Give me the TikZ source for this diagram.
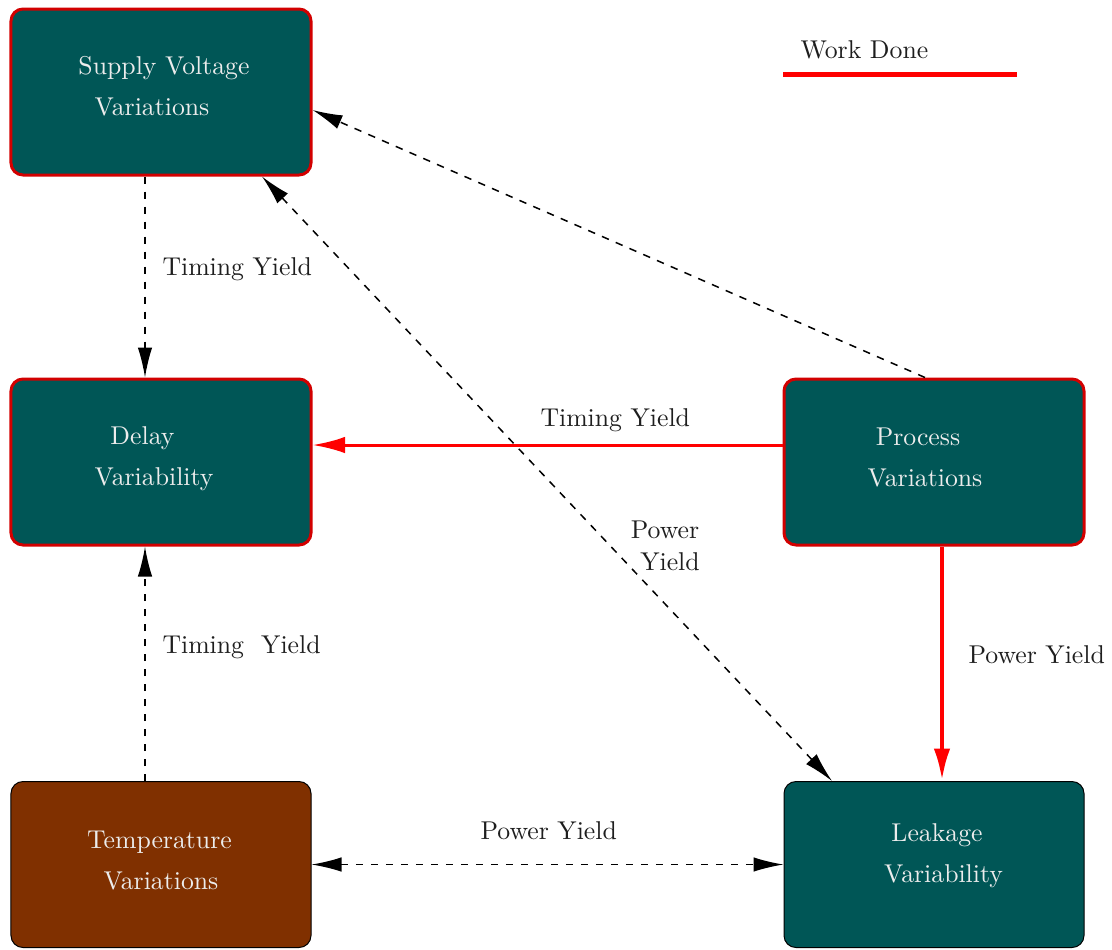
\documentclass[tikz,border=0pt]{standalone}
\usetikzlibrary{arrows.meta,calc}
\definecolor{tealbox}{RGB}{0,86,86}
\definecolor{brownbox}{RGB}{128,48,0}
\definecolor{boxtext}{RGB}{236,236,236}
\definecolor{labeltext}{RGB}{30,30,30}
\definecolor{workred}{RGB}{255,0,0}
\definecolor{edgered}{RGB}{210,0,0}
% two-line box caption, lifted by #1 without changing its size
\newcommand{\boxlines}[2]{\raisebox{#1}[\height][\depth]{\begin{tabular}{@{}c@{}}#2\end{tabular}}}
\begin{document}
\begin{tikzpicture}[x=0.4pt,y=-0.4pt,
  box/.style={rectangle,rounded corners=4.8pt,minimum width=120pt,minimum height=66.4pt,
    inner sep=0pt,text=boxtext,font=\fontsize{10.3pt}{16.4pt}\selectfont},
  donebox/.style={box,fill=tealbox,draw=edgered,line width=1.2pt},
  openbox/.style={box,draw=black,line width=0.4pt},
  lbl/.style={text=labeltext,font=\fontsize{10.3pt}{12.8pt}\selectfont,inner sep=0pt},
  pending/.style={dashed,line width=0.6pt,-{Latex[length=12pt,width=5.8pt]}},
  pendingboth/.style={dashed,line width=0.6pt,{Latex[length=12pt,width=5.8pt]}-{Latex[length=12pt,width=5.8pt]}},
  done/.style={draw=workred,line width=1.2pt,-{Latex[length=13pt,width=6.6pt]}},
  donethick/.style={draw=workred,line width=1.8pt,-{Latex[length=13pt,width=6.6pt]}}]
\useasboundingbox (0,0) rectangle (1112,949);

% boxes
\node[donebox] (sv) at (161,92) {\boxlines{2pt}{\hspace*{2.4pt}Supply Voltage\\Variations\hspace*{7.2pt}}};
\node[donebox] (dv) at (161,462) {\boxlines{2.2pt}{Delay\hspace*{14.8pt}\\Variability\hspace*{5.6pt}}};
\node[donebox] (pv) at (934,462) {\boxlines{1.8pt}{Process\hspace*{12.8pt}\\Variations\hspace*{7.2pt}}};
\node[openbox,fill=brownbox] (tv) at (161,864.5) {\boxlines{1.4pt}{Temperature\hspace*{1.2pt}\\Variations}};
\node[openbox,fill=tealbox] (lv) at (934,864.5) {\boxlines{4.4pt}{\hspace*{2.4pt}Leakage\\\hspace*{7.6pt}Variability}};

% legend
\node[lbl,anchor=west] (legend) at (800,50) {Work Done};
\coordinate (lgA) at (783,74);
\coordinate (lgB) at (1017,74);
\draw[draw=workred,line width=2pt] (lgA) -- (lgB);

% connectors
\draw[pending] ($(sv.south)+(-16,0)$) -- ($(dv.north)+(-16,0)$);
\draw[pending] ($(tv.north)+(-16,0)$) -- ($(dv.south)+(-16,0)$);
\draw[pending] ($(pv.north)+(-9,0)$) -- ($(sv.east)+(0,18)$);
\draw[pendingboth] ($(sv.south)+(101,0)$) -- ($(lv.north)+(-102,0)$);
\draw[pendingboth] (tv.east) -- (lv.west);
\draw[done] ($(pv.west)+(0,-17)$) -- ($(dv.east)+(0,-17)$);
\draw[donethick] ($(pv.south)+(8,0)$) -- ($(lv.north)+(8,0)$);

% connector labels
\node[lbl,anchor=west] (l1) at (162,269) {Timing Yield};
\node[lbl,anchor=west] (l2) at (162,647) {Timing\ \ Yield};
\node[lbl,anchor=west] (l3) at (540,420) {Timing Yield};
\node[lbl,align=center] (l4) at (665,546) {Power\\\hspace*{4pt}Yield};
\node[lbl,anchor=west] (l5) at (968,655) {Power Yield};
\node[lbl,anchor=west] (l6) at (480,831) {Power Yield};
\end{tikzpicture}
\end{document}
